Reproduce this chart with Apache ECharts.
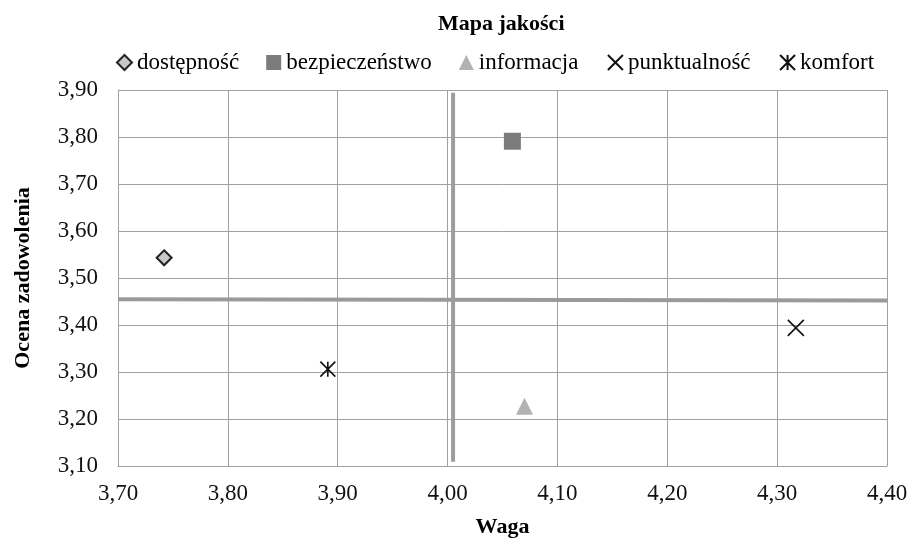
<!DOCTYPE html>
<html>
<head>
<meta charset="utf-8">
<script src="https://cdn.jsdelivr.net/npm/echarts@6/dist/echarts.min.js"></script>
<style>
  html, body { margin: 0; padding: 0; background: #fff; }
  #chart { width: 910px; height: 538px; }
</style>
</head>
<body>
<div id="chart"></div>
<script>
// kategorie i wartości (Waga, Ocena zadowolenia)
const categories = ['dostępność', 'bezpieczeństwo', 'informacja', 'punktualność', 'komfort']
const waga = [3.742, 4.059, 4.070, 4.317, 3.891]
const ocena = [3.543, 3.791, 3.227, 3.394, 3.306]

// linie średnich
const sredniaWagaX = [4.005, 4.005]
const sredniaWagaY = [3.894, 3.109]
const sredniaOcenaX = [3.70, 4.40]
const sredniaOcenaY = [3.455, 3.452]

const font = '"Liberation Serif", "Times New Roman", serif'
const fmt = v => v.toFixed(2).replace('.', ',')

const markers = [
  { symbol: 'diamond', size: 15, style: { color: '#c8c8c8', borderColor: '#222', borderWidth: 2, opacity: 1 } },
  { symbol: 'rect', size: 17, style: { color: '#7b7b7d', opacity: 1 } },
  { symbol: 'triangle', size: 17, style: { color: '#b2b2b4', opacity: 1 } },
  { symbol: 'path://M0,0L10,10M10,0L0,10', size: 16, style: { color: 'none', borderColor: '#111', borderWidth: 1.6, opacity: 1 } },
  { symbol: 'path://M0,0L10,10M10,0L0,10M5,0L5,10', size: 15, style: { color: 'none', borderColor: '#111', borderWidth: 1.6, opacity: 1 } }
]

const chart = echarts.init(document.getElementById('chart'))

const series = categories.map((name, i) => ({
  name: name,
  type: 'scatter',
  symbol: markers[i].symbol,
  symbolSize: markers[i].size,
  itemStyle: markers[i].style,
  z: 5,
  data: [[waga[i], ocena[i]]]
}))

// linie średnich (nie w legendzie)
series.push({
  type: 'line',
  silent: true,
  symbol: 'none',
  z: 3,
  lineStyle: { color: '#9d9d9f', width: 4 },
  data: sredniaWagaX.map((x, i) => [x, sredniaWagaY[i]])
})
series.push({
  type: 'line',
  silent: true,
  symbol: 'none',
  z: 3,
  lineStyle: { color: '#9a9a9c', width: 4 },
  data: sredniaOcenaX.map((x, i) => [x, sredniaOcenaY[i]])
})

const option = {
  backgroundColor: '#fff',
  animation: false,
  title: {
    text: 'Mapa jakości',
    left: 433,
    top: 8,
    textStyle: { fontFamily: font, fontSize: 22, fontWeight: 'bold', color: '#000' }
  },
  legend: {
    data: categories,
    left: 111,
    top: 46,
    itemGap: 27,
    itemWidth: 15,
    itemHeight: 15,
    textStyle: { fontFamily: font, fontSize: 23, color: '#000' }
  },
  grid: { left: 118, right: 23, top: 90, bottom: 72, outerBoundsMode: 'none' },
  xAxis: {
    type: 'value',
    min: 3.7,
    max: 4.4,
    interval: 0.1,
    name: 'Waga',
    nameLocation: 'middle',
    nameGap: 50,
    nameTextStyle: { fontFamily: font, fontSize: 22, fontWeight: 'bold', color: '#000' },
    axisLine: { lineStyle: { color: '#a0a0a0', width: 1 } },
    axisTick: { show: false },
    axisLabel: { fontFamily: font, fontSize: 23, color: '#111', margin: 16, formatter: fmt },
    splitLine: { lineStyle: { color: '#a0a0a0', width: 1 } }
  },
  yAxis: {
    type: 'value',
    min: 3.1,
    max: 3.9,
    interval: 0.1,
    name: 'Ocena zadowolenia',
    nameLocation: 'middle',
    nameGap: 84,
    nameTextStyle: { fontFamily: font, fontSize: 22, fontWeight: 'bold', color: '#000' },
    axisLine: { show: true, lineStyle: { color: '#a0a0a0', width: 1 } },
    axisTick: { show: false },
    axisLabel: { fontFamily: font, fontSize: 23, color: '#111', margin: 20, formatter: fmt },
    splitLine: { lineStyle: { color: '#a0a0a0', width: 1 } }
  },
  series: series
}

chart.setOption(option)
</script>
</body>
</html>
